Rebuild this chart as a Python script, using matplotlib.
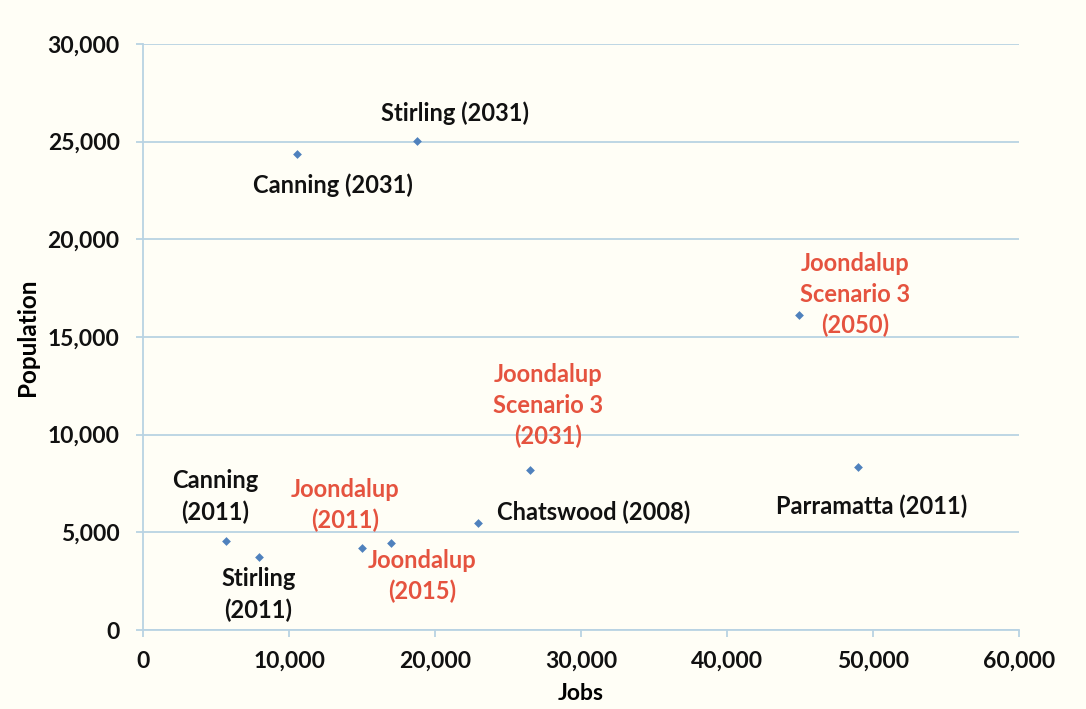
import matplotlib.pyplot as plt
from matplotlib.ticker import FuncFormatter, MultipleLocator

# jobs vs population for activity centres
names = ["Canning\n(2011)", "Stirling\n(2011)", "Joondalup\n(2011)", "Joondalup\n(2015)",
         "Chatswood (2008)", "Joondalup\nScenario 3\n(2031)", "Joondalup\nScenario 3\n(2050)",
         "Parramatta (2011)", "Canning (2031)", "Stirling (2031)"]
jobs = [5660, 7950, 15000, 17000, 22950, 26500, 44930, 49000, 10500, 18730]
population = [4580, 3760, 4190, 4460, 5470, 8200, 16150, 8340, 24390, 25010]
highlight = [False, False, True, True, False, True, True, False, False, False]

# label offsets in pixels from each point, and horizontal alignment
offsets = [(-11, 44), (-1, -38), (-17, 43), (31, -33), (19, 11),
           (18, 64), (56, 20), (13, -39), (36, -32), (38, 28)]
aligns = ["center", "center", "center", "center", "left",
          "center", "center", "center", "center", "center"]

bg = "#fffef6"
grid_col = "#b9d3e3"
font = "Lato"

fig = plt.figure(figsize=(10.86, 7.09), dpi=100, facecolor=bg)
ax = fig.add_axes([0.132, 0.1114, 0.8063, 0.8266], facecolor=bg)

ax.scatter(jobs, population, marker="D", s=20, color="#4f81bd", zorder=3, linewidths=0)

for n, x, y, hl, off, ha in zip(names, jobs, population, highlight, offsets, aligns):
    ax.annotate(n, (x, y), xytext=off, textcoords="offset pixels",
                ha=ha, va="center", fontsize=17, fontweight="bold", family=font,
                color="#e5533f" if hl else "#111111", linespacing=1.4)

ax.set_xlim(0, 60000)
ax.set_ylim(0, 30000)
ax.xaxis.set_major_locator(MultipleLocator(10000))
ax.yaxis.set_major_locator(MultipleLocator(5000))
fmt = FuncFormatter(lambda v, p: f"{int(v):,}")
ax.xaxis.set_major_formatter(fmt)
ax.yaxis.set_major_formatter(fmt)

ax.grid(axis="y", color=grid_col, lw=1.3)
ax.set_axisbelow(True)
for side in ["top", "right"]:
    ax.spines[side].set_visible(False)
for side in ["left", "bottom"]:
    ax.spines[side].set_color(grid_col)
    ax.spines[side].set_linewidth(1.3)

ax.tick_params(axis="both", colors=grid_col, length=5, width=1.3, labelcolor="#111111",
               labelsize=16.5)
ax.tick_params(axis="x", pad=10)
ax.tick_params(axis="y", pad=12)
for lab in ax.get_xticklabels() + ax.get_yticklabels():
    lab.set_fontweight("bold")
    lab.set_family(font)

ax.set_xlabel("Jobs", fontsize=16.5, fontweight="bold", family=font, labelpad=8)
ax.set_ylabel("Population", fontsize=17.5, fontweight="bold", family=font, labelpad=6)

fig.savefig("out.png", dpi=100, facecolor=bg)
